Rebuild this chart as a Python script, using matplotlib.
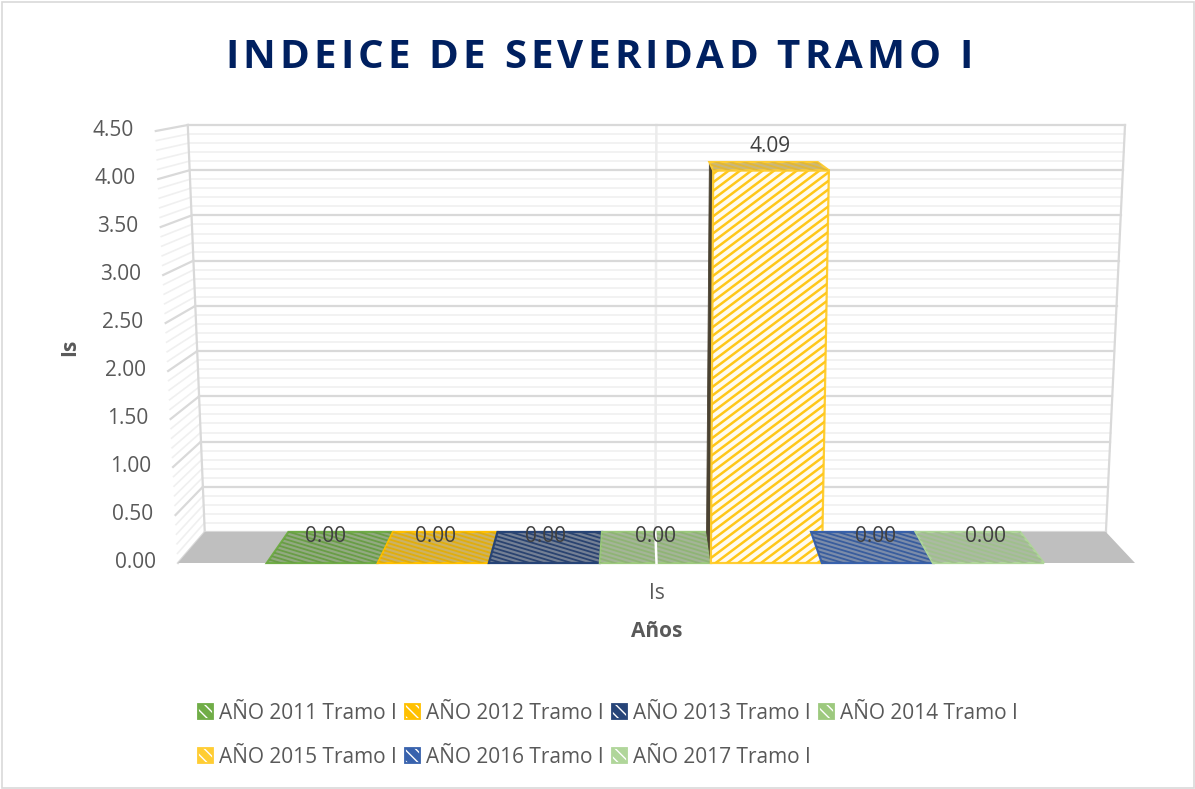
import numpy as np
import matplotlib
matplotlib.use('Agg')
import matplotlib.pyplot as plt
import matplotlib.colors as mcolors
from matplotlib.patches import Polygon, Patch, Rectangle
from matplotlib.collections import LineCollection
from matplotlib.transforms import IdentityTransform
from matplotlib.font_manager import FontProperties

plt.rcParams['font.family'] = ['Open Sans', 'DejaVu Sans']

# datos del gráfico
series = ['AÑO 2011 Tramo I', 'AÑO 2012 Tramo I', 'AÑO 2013 Tramo I', 'AÑO 2014 Tramo I',
          'AÑO 2015 Tramo I', 'AÑO 2016 Tramo I', 'AÑO 2017 Tramo I']
valores = [0.00, 0.00, 0.00, 0.00, 4.09, 0.00, 0.00]
colores = ['#70ad47', '#ffc000', '#264478', '#9dc97e', '#ffcd33', '#3862ad', '#b0d69a']
yticks = [0.0, 0.5, 1.0, 1.5, 2.0, 2.5, 3.0, 3.5, 4.0, 4.5]
categoria = 'Is'
titulo = 'INDEICE DE SEVERIDAD TRAMO I'
eje_y = 'Is'
eje_x = 'Años'

W, H = 1195, 789
YMAX = 4.5
X0, X1 = -0.80, 7.82          # piso en unidades de columna
# esquinas del plano frontal y del fondo (bl, br, tl, tr) en unidades de datos
FRENTE = [(X0, 0.0), (X1, 0.0), (-1.0, YMAX), (8.02, YMAX)]
FONDO = [(-0.559, 0.323), (7.558, 0.323), (-0.712, 4.5625), (7.73, 4.5625)]


def proj(x, v, d):
    """punto (x, valor, profundidad 0..1) -> coordenadas del eje"""
    u = (x - X0) / (X1 - X0)
    t = v / YMAX

    def plano(c):
        bl, br, tl, tr = (np.array(p, dtype=float) for p in c)
        izq = bl + t * (tl - bl)
        der = br + t * (tr - br)
        return izq + u * (der - izq)
    f = plano(FRENTE)
    b = plano(FONDO)
    return f + d * (b - f)


def mezcla(c1, c2, t):
    a = np.array(mcolors.to_rgb(c1))
    b = np.array(mcolors.to_rgb(c2))
    return tuple(a * (1 - t) + b * t)


def cara(ax, pts, fc, ec, lw, z, rayas=None):
    poly = Polygon(pts, closed=True, facecolor=fc, edgecolor=ec, lw=lw,
                   zorder=z, clip_on=False, joinstyle='miter')
    ax.add_patch(poly)
    if rayas is not None:
        color, m, paso, ancho = rayas
        px = ax.transData.transform(np.array(pts))
        xmin, ymin = px.min(0)
        xmax, ymax = px.max(0)
        span = xmax - xmin
        cs = np.arange(ymin - abs(m) * span - paso, ymax + abs(m) * span + paso, paso)
        segs = [[(xmin, c), (xmax, c + m * span)] for c in cs]
        lc = LineCollection(segs, colors=[color], linewidths=ancho,
                            transform=IdentityTransform(), zorder=z + 0.05)
        ax.add_collection(lc, autolim=False)
        lc.set_clip_path(poly)
    return poly


fig = plt.figure(figsize=(W / 100, H / 100), dpi=100)
ax = fig.add_axes([178 / W, 1 - 563 / H, 957 / W, 432 / H])
ax.set_xlim(X0, X1)
ax.set_ylim(0, YMAX)
ax.axis('off')

# rejilla en la pared del fondo y la pared izquierda
for k in range(46):
    v = k * 0.1
    mayor = k % 5 == 0
    col = '#d9d9d9' if mayor else '#f0f0f0'
    lw = 1.6 if mayor else 1.2
    a, b = proj(X0, v, 1), proj(X1, v, 1)
    ax.plot([a[0], b[0]], [a[1], b[1]], color=col, lw=lw, zorder=1 + mayor * 0.1, clip_on=False)
    a, b = proj(X0, v, 0), proj(X0, v, 1)
    ax.plot([a[0], b[0]], [a[1], b[1]], color=col, lw=lw, zorder=1 + mayor * 0.1, clip_on=False)

for xb in (X0, X1):
    a, b = proj(xb, 0, 1), proj(xb, YMAX, 1)
    ax.plot([a[0], b[0]], [a[1], b[1]], color='#d9d9d9', lw=1.6, zorder=1.2, clip_on=False)

xc = (X0 + X1) / 2
a, b = proj(xc, 0, 1), proj(xc, YMAX, 1)
ax.plot([a[0], b[0]], [a[1], b[1]], color='#ececec', lw=1.8, zorder=1.05, clip_on=False)

# piso
cara(ax, [proj(X0, 0, 0), proj(X1, 0, 0), proj(X1, 0, 1), proj(X0, 0, 1)],
     '#bfbfbf', 'none', 0, 2)

# columnas
for i, (v, c) in enumerate(zip(valores, colores)):
    z = 3 + i * 0.5
    x0, x1 = i, i + 1
    if v > 0:
        cara(ax, [proj(x0, 0, 0), proj(x0, v, 0), proj(x0, v, 1), proj(x0, 0, 1)],
             '#4a4232', '#4a4232', 0.6, z)
        cara(ax, [proj(x0, 0, 0), proj(x1, 0, 0), proj(x1, v, 0), proj(x0, v, 0)],
             '#fffbf0', c, 1.6, z + 0.1, rayas=(mezcla(c, '#ffc000', 0.5), 0.75, 8.5, 1.8))
    cara(ax, [proj(x0, v, 0), proj(x1, v, 0), proj(x1, v, 1), proj(x0, v, 1)],
         mezcla(c, '#a8a8a8', 0.6), c, 1.6, z + 0.2,
         rayas=(mezcla(c, '#404040', 0.15), -0.3, 4.2, 1.3))
    p = proj(x0 + 0.5, v, 0.15)
    ax.annotate(f'{v:.2f}', xy=p, xytext=(0, 16), textcoords='offset points',
                ha='center', va='center', fontsize=15, color='#404040',
                zorder=20, annotation_clip=False)

# marca de la categoría sobre el piso
a, b = proj(xc, 0, 0), proj(xc, 0, 1)
ax.plot([a[0], b[0]], [a[1], b[1]], color='white', lw=1.8, zorder=8, clip_on=False)

# etiquetas del eje de valores
for v in yticks:
    ax.annotate(f'{v:.2f}', xy=proj(X0, v, 0), xytext=(-16, 0), textcoords='offset points',
                ha='right', va='center', fontsize=15, color='#595959', annotation_clip=False)

p = proj(xc, 0, 0)
ax.annotate(categoria, xy=p, xytext=(0, -22), textcoords='offset points',
            ha='center', va='center', fontsize=15, color='#595959', annotation_clip=False)
ax.annotate(eje_x, xy=p, xytext=(0, -49), textcoords='offset points',
            ha='center', va='center', fontsize=15, fontweight='bold', color='#595959',
            annotation_clip=False)
fig.text(70 / W, 1 - 347 / H, eje_y, rotation=90, ha='center', va='center',
         fontsize=15, fontweight='bold', color='#595959')

# título con espaciado entre letras
fp_t = FontProperties(family='Open Sans', weight='bold', size=29)
rend = fig.canvas.get_renderer()


def ancho(s):
    return rend.get_text_width_height_descent(s, fp_t, ismath=False)[0]


base = ancho('II')
avances = [ancho('I' + ch + 'I') - base for ch in titulo]
esp = (973 - 225 - sum(avances[:-1]) - ancho(titulo[-1])) / (len(titulo) - 1)
x = 225
for ch, av in zip(titulo, avances):
    if ch != ' ':
        fig.text(x / W, 1 - 68 / H, ch, fontproperties=fp_t, color='#002060',
                 ha='left', va='baseline')
    x += av + esp

# leyenda
handles = [(Patch(facecolor=c, edgecolor='white', hatch='\\\\\\', lw=0),
            Patch(facecolor='none', edgecolor=c, lw=1.3)) for c in colores]
orden = [0, 4, 1, 5, 2, 6, 3]
fig.legend([handles[i] for i in orden], [series[i] for i in orden], ncol=4,
           loc='upper left', bbox_to_anchor=(198 / W, 1 - 703 / H), frameon=False,
           fontsize=15, labelcolor='#595959', handlelength=0.7, handleheight=0.7,
           handletextpad=0.3, columnspacing=0.4, labelspacing=1.1,
           borderpad=0, borderaxespad=0)

fig.patches.append(Rectangle((1.5 / W, 1.5 / H), 1 - 3 / W, 1 - 3 / H, transform=fig.transFigure,
                             fill=False, edgecolor='#d9d9d9', lw=1.2))

fig.savefig('out.png', dpi=100)
